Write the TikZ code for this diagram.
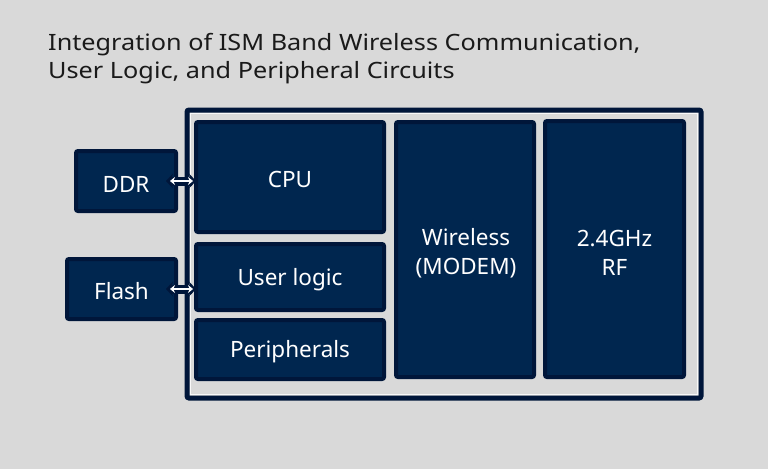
\documentclass[tikz,border=0pt]{standalone}
\usepackage{fontspec}
\setmainfont{Noto Sans}
\newfontfamily\titlefont[FakeStretch=1.122]{Noto Sans}
\usetikzlibrary{arrows.meta}
\definecolor{bgc}{HTML}{D9D9D9}
\definecolor{navy}{HTML}{00264F}
\definecolor{navyd}{HTML}{00163A}
\definecolor{titlec}{HTML}{1A1A1A}
\begin{document}
\begin{tikzpicture}[x=1pt,y=-1pt,
  blk/.style={draw=navyd, fill=navy, line width=4pt, rounded corners=2pt, inner sep=0pt},
  lbl/.style={text=white, font=\fontsize{22.5}{29}\selectfont, align=center, inner sep=0pt},
  frm/.style={draw=navyd, line width=5pt, rounded corners=2pt, inner sep=0pt},
  hl/.style={draw=white!85!bgc, line width=0.8pt},
  arr/.style={{Stealth[length=5pt,width=8pt]}-{Stealth[length=5pt,width=8pt]}, draw=white, line width=2.4pt},
  arrbg/.style={{Stealth[length=7pt,width=15pt]}-{Stealth[length=7pt,width=15pt]}, draw=navyd, line width=9pt}
]
\fill[bgc] (0,0) rectangle (768,469);
\useasboundingbox (0,0) rectangle (768,469);
% title
\node[anchor=base west, align=left, text=titlec, font=\titlefont\fontsize{22.5}{28}\selectfont, inner sep=0pt] (title) at (48,78)
  {Integration of ISM Band Wireless Communication,\\User Logic, and Peripheral Circuits};
% frame
\node[frm, minimum width=514pt, minimum height=288pt] (frame) at (444,254) {};
\draw[hl] (190.5,113.5) rectangle (697.5,394.5);
% blocks
\node[blk, minimum width=188pt, minimum height=110pt] (cpu) at (290,177) {};
\node[blk, minimum width=188pt, minimum height=66pt] (ul) at (290,277) {};
\node[blk, minimum width=188pt, minimum height=59pt] (per) at (290,349.5) {};
\node[blk, minimum width=138pt, minimum height=255pt] (wl) at (465,249.5) {};
\node[blk, minimum width=139pt, minimum height=256pt] (rf) at (614.5,249) {};
\node[blk, minimum width=100pt, minimum height=60pt] (ddr) at (126,181) {};
\node[blk, minimum width=109pt, minimum height=60pt] (flash) at (121.5,289) {};
% labels
\node[lbl] (cpuT) at (290,179) {CPU};
\node[lbl] (ulT) at (290,279.5) {User logic};
\node[lbl] (perT) at (290,352) {Peripherals};
\node[lbl] (wlT) at (466,253) {Wireless\\(MODEM)};
\node[lbl] (rfT) at (614.5,253) {2.4GHz\\RF};
\node[lbl] (ddrT) at (126,184) {DDR};
\node[lbl] (flashT) at (121.5,291) {Flash};
% arrows
\coordinate (d1) at ([xshift=-12pt]ddr.east);
\coordinate (d2) at (197,181);
\coordinate (f1) at ([xshift=-12pt]flash.east);
\coordinate (f2) at (197,289);
\draw[arrbg] (d1) -- ([xshift=-1pt]d2);
\draw[arr] ([xshift=4pt]d1) -- ([xshift=-4pt]d2);
\draw[arrbg] (f1) -- ([xshift=-1pt]f2);
\draw[arr] ([xshift=4pt]f1) -- ([xshift=-4pt]f2);
\end{tikzpicture}
\end{document}
